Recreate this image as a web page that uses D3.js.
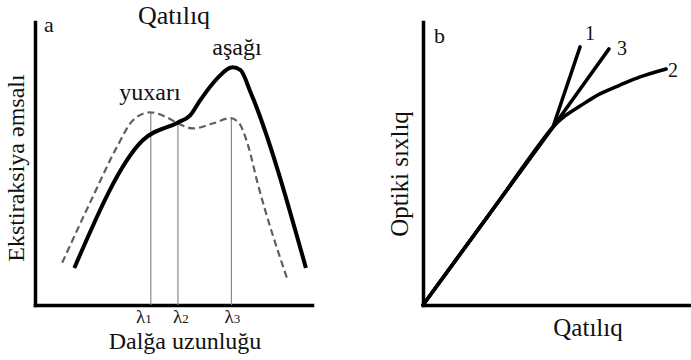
<!DOCTYPE html>
<html>
<head>
<meta charset="utf-8">
<script src="https://cdn.jsdelivr.net/npm/d3@7"></script>
<style>
  html, body { margin: 0; padding: 0; background: #fff; }
  svg { display: block; }
</style>
</head>
<body>
<svg id="chart" width="691" height="360"></svg>
<script>
// Panel a: absorption spectra at high ("yuxarı") and low ("aşağı") concentration
const lowConcWave = [14.2, 38.9, 51.6, 56.0, 59.6, 65.8, 71.3, 74.2, 77.8, 97.8];
const lowConcValue = [13.1, 58.2, 64.5, 67.0, 72.3, 80.1, 84.0, 83.0, 75.2, 13.1];
const highConcWave = [9.8, 20.7, 29.5, 35.3, 41.5, 47.6, 51.6, 57.1, 64.4, 70.5, 73.5, 76.7, 80.4, 91.3];
const highConcValue = [14.9, 37.9, 55.7, 65.2, 68.1, 66.3, 64.2, 62.4, 64.2, 66.0, 64.5, 57.1, 42.9, 8.5];
const lambdaNames = ["λ", "λ", "λ"];
const lambdaIndex = ["1", "2", "3"];
const lambdaWave = [41.8, 51.6, 70.9];
const lambdaTop = [68.1, 64.2, 66.0];

// Panel b: optical density vs concentration, three behaviours
const seriesNames = ["1", "3", "2"];
const concValues = [
  [0, 48.5, 58.6],
  [0, 48.5, 69.4],
  [0, 24.3, 48.5, 53.0, 58.6, 66.0, 73.5, 81.0, 90.7]
];
const densityValues = [
  [0, 62.9, 91.2],
  [0, 62.9, 90.5],
  [0, 31.5, 62.9, 66.8, 70.3, 74.6, 77.7, 80.6, 83.4]
];

const svg = d3.select("#chart");

function label(sel, size) {
  return sel.style("font-family", '"Liberation Serif"')
    .style("font-size", size + "px").attr("fill", "#111");
}

// ---------- panel a ----------
const xa = d3.scaleLinear().domain([0, 100]).range([35, 312]);
const ya = d3.scaleLinear().domain([0, 100]).range([305, 22]);

const axisStyle = g => g.select(".domain")
  .attr("stroke", "#000").attr("stroke-width", 3.5).attr("stroke-linecap", "square");

svg.append("g").attr("transform", `translate(0,${ya(0)})`)
  .call(d3.axisBottom(xa).ticks(0).tickSizeOuter(0)).call(axisStyle);
svg.append("g").attr("transform", `translate(${xa(0)},0)`)
  .call(d3.axisLeft(ya).ticks(0).tickSizeOuter(0)).call(axisStyle);

// wavelength markers
svg.append("g").selectAll("line").data(lambdaWave).join("line")
  .attr("x1", d => xa(d)).attr("x2", d => xa(d))
  .attr("y1", (d, i) => ya(lambdaTop[i])).attr("y2", ya(0))
  .attr("stroke", "#8a8a8a").attr("stroke-width", 1.2);

const lineA = d3.line().curve(d3.curveMonotoneX).x(d => xa(d[0])).y(d => ya(d[1]));

svg.append("path")
  .attr("d", lineA(d3.zip(highConcWave, highConcValue)))
  .attr("fill", "none").attr("stroke", "#5f5f5f").attr("stroke-width", 2.2)
  .attr("stroke-dasharray", "7,4");

svg.append("path")
  .attr("d", lineA(d3.zip(lowConcWave, lowConcValue)))
  .attr("fill", "none").attr("stroke", "#000").attr("stroke-width", 4)
  .attr("stroke-linejoin", "round");

// λ labels
const lamOffsets = [-7, 3, 1];
const lamG = svg.append("g").selectAll("text").data(lambdaWave).join("text")
  .attr("x", (d, i) => xa(d) + lamOffsets[i]).attr("y", 323)
  .attr("text-anchor", "middle")
  .call(label, 19);
lamG.append("tspan").text((d, i) => lambdaNames[i]);
lamG.append("tspan").style("font-size", "13px").text((d, i) => lambdaIndex[i]);

svg.append("text").attr("x", 185).attr("y", 349).attr("text-anchor", "middle")
  .call(label, 24).text("Dalğa uzunluğu");
svg.append("text").attr("x", 174).attr("y", 24).attr("text-anchor", "middle")
  .call(label, 26).text("Qatılıq");
svg.append("text").attr("x", 237).attr("y", 55).attr("text-anchor", "middle")
  .call(label, 24).text("aşağı");
svg.append("text").attr("x", 150).attr("y", 100).attr("text-anchor", "middle")
  .call(label, 24).text("yuxarı");
svg.append("text").attr("x", 44).attr("y", 32)
  .call(label, 22).text("a");
svg.append("text").attr("transform", "translate(24,168) rotate(-90)")
  .attr("text-anchor", "middle").call(label, 24).text("Ekstiraksiya əmsalı");

// ---------- panel b ----------
const xb = d3.scaleLinear().domain([0, 100]).range([423, 691]);
const yb = d3.scaleLinear().domain([0, 100]).range([305, 22]);

svg.append("g").attr("transform", `translate(0,${yb(0)})`)
  .call(d3.axisBottom(xb).ticks(0).tickSizeOuter(0)).call(axisStyle);
svg.append("g").attr("transform", `translate(${xb(0)},0)`)
  .call(d3.axisLeft(yb).ticks(0).tickSizeOuter(0)).call(axisStyle);

const lineStraight = d3.line().x(d => xb(d[0])).y(d => yb(d[1]));
const lineCurved = d3.line().curve(d3.curveCatmullRom.alpha(0.5)).x(d => xb(d[0])).y(d => yb(d[1]));

svg.append("g").selectAll("path").data(seriesNames).join("path")
  .attr("d", (d, i) => {
    const pts = d3.zip(concValues[i], densityValues[i]);
    return (pts.length > 3 ? lineCurved : lineStraight)(pts);
  })
  .attr("fill", "none").attr("stroke", "#000").attr("stroke-width", 3.5)
  .attr("stroke-linejoin", "round").attr("stroke-linecap", "round");

const endLabelPos = [[590, 40], [622, 55], [673, 77]];
svg.append("g").selectAll("text").data(seriesNames).join("text")
  .attr("x", (d, i) => endLabelPos[i][0]).attr("y", (d, i) => endLabelPos[i][1])
  .attr("text-anchor", "middle").call(label, 20).text(d => d);

svg.append("text").attr("x", 434).attr("y", 43)
  .call(label, 22).text("b");
svg.append("text").attr("x", 588).attr("y", 336).attr("text-anchor", "middle")
  .call(label, 25).text("Qatılıq");
svg.append("text").attr("transform", "translate(408,174) rotate(-90)")
  .attr("text-anchor", "middle").call(label, 25).text("Optiki sıxlıq");
</script>
</body>
</html>
